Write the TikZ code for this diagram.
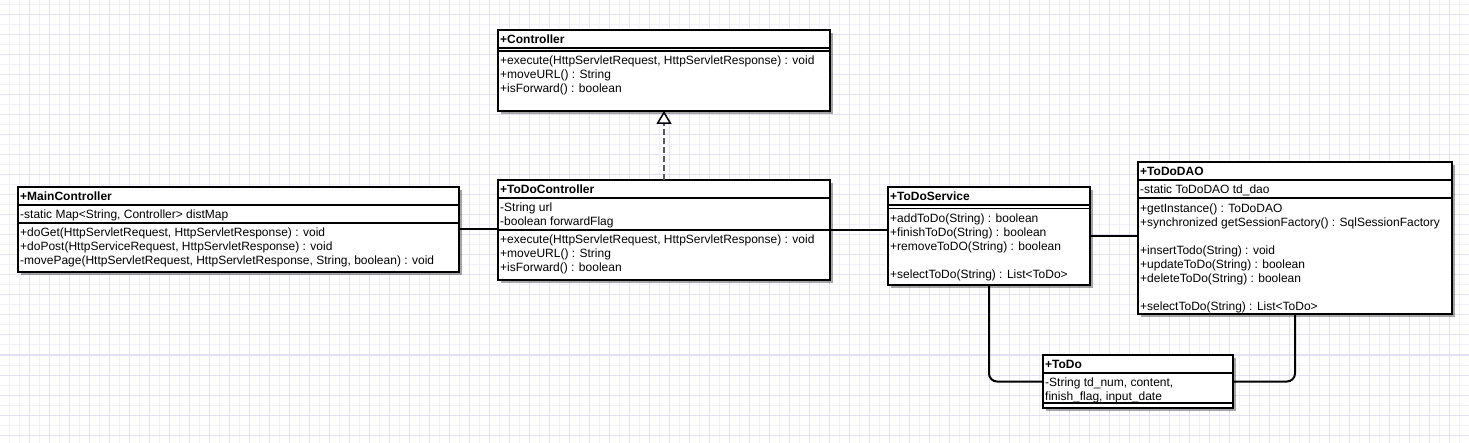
\documentclass[tikz,border=0pt]{standalone}
\usepackage{fontspec}
\setmainfont{Liberation Sans}
\usepackage{tikz}
\usetikzlibrary{positioning,arrows.meta,shadows}
\definecolor{gridminor}{RGB}{242,240,251}
\definecolor{gridmajor}{RGB}{228,224,247}

\begin{document}
\begin{tikzpicture}[x=1pt, y=-1pt,
    umlclass/.style = {draw, line width=2pt, fill=white, anchor=north west, inner sep=0pt, outer sep=0pt,
                       drop shadow={shadow xshift=3pt, shadow yshift=-3pt, fill=black, opacity=0.35}},
    classname/.style = {anchor=north west, inner sep=0pt, font=\fontsize{12}{14}\selectfont\bfseries},
    members/.style = {anchor=north west, inner sep=0pt, align=left, font=\fontsize{12}{14}\selectfont},
    compsep/.style = {line width=1.5pt},
    assoc/.style = {line width=2pt, rounded corners=8pt},
    realize/.style = {line width=2pt, draw=black!65, dash pattern=on 6pt off 3pt,
                      -{Triangle[length=13pt, width=15pt, color=black, fill=white, line width=1.5pt]}}]
    \fill[white] (0,0) rectangle (1469,443);
    \useasboundingbox (0,0) rectangle (1469,443);
    \foreach \x in {9,19,...,1469} \draw[gridminor, line width=1pt] (\x,0) -- (\x,443);
    \foreach \y in {5,15,...,443} \draw[gridminor, line width=1pt] (0,\y) -- (1469,\y);
    \foreach \x in {29,49,...,1469} \draw[gridmajor, line width=1pt] (\x,0) -- (\x,443);
    \foreach \y in {15,35,...,443} \draw[gridmajor, line width=1pt] (0,\y) -- (1469,\y);

    \node[umlclass, minimum width=332pt, minimum height=81pt] (controller) at (498,30) {};
    \node[classname] (controller-name) at ([xshift=2pt, yshift=-3.5pt]controller.north west) {\strut+Controller};
    \draw[compsep] ([yshift=-18pt]controller.north west) -- ([yshift=-18pt]controller.north east);
    \draw[compsep] ([yshift=-21pt]controller.north west) -- ([yshift=-21pt]controller.north east);
    \node[members] (controller-ops) at ([xshift=2pt, yshift=-24.5pt]controller.north west)
        {\strut+execute(HttpServletRequest, HttpServletResponse) : void\\
         +moveURL() : String\\
         +isForward() : boolean};

    \node[umlclass, minimum width=441pt, minimum height=85pt] (mainctrl) at (18,187) {};
    \node[classname] (mainctrl-name) at ([xshift=2pt, yshift=-3.5pt]mainctrl.north west) {\strut+MainController};
    \draw[compsep] ([yshift=-18pt]mainctrl.north west) -- ([yshift=-18pt]mainctrl.north east);
    \node[members] (mainctrl-attrs) at ([xshift=2pt, yshift=-21.5pt]mainctrl.north west)
        {\strut-static Map<String, Controller> distMap};
    \draw[compsep] ([yshift=-36pt]mainctrl.north west) -- ([yshift=-36pt]mainctrl.north east);
    \node[members] (mainctrl-ops) at ([xshift=2pt, yshift=-39.5pt]mainctrl.north west)
        {\strut+doGet(HttpServletRequest, HttpServletResponse) : void\\
         +doPost(HttpServiceRequest, HttpServletResponse) : void\\
         -movePage(HttpServletRequest, HttpServletResponse, String, boolean) : void};

    \node[umlclass, minimum width=332pt, minimum height=100pt] (todoctrl) at (498,180) {};
    \node[classname] (todoctrl-name) at ([xshift=2pt, yshift=-3.5pt]todoctrl.north west) {\strut+ToDoController};
    \draw[compsep] ([yshift=-18pt]todoctrl.north west) -- ([yshift=-18pt]todoctrl.north east);
    \node[members] (todoctrl-attrs) at ([xshift=2pt, yshift=-21.5pt]todoctrl.north west)
        {\strut-String url\\
         -boolean forwardFlag};
    \draw[compsep] ([yshift=-50pt]todoctrl.north west) -- ([yshift=-50pt]todoctrl.north east);
    \node[members] (todoctrl-ops) at ([xshift=2pt, yshift=-53.5pt]todoctrl.north west)
        {\strut+execute(HttpServletRequest, HttpServletResponse) : void\\
         +moveURL() : String\\
         +isForward() : boolean};

    \node[umlclass, minimum width=202pt, minimum height=98pt] (service) at (888,187) {};
    \node[classname] (service-name) at ([xshift=2pt, yshift=-3.5pt]service.north west) {\strut+ToDoService};
    \draw[compsep] ([yshift=-18pt]service.north west) -- ([yshift=-18pt]service.north east);
    \draw[compsep] ([yshift=-21.5pt]service.north west) -- ([yshift=-21.5pt]service.north east);
    \node[members] (service-ops) at ([xshift=2pt, yshift=-25.5pt]service.north west)
        {\strut+addToDo(String) : boolean\\
         +finishToDo(String) : boolean\\
         +removeToDO(String) : boolean\\[14pt]
         +selectToDo(String) : List<ToDo>};

    \node[umlclass, minimum width=314pt, minimum height=152pt] (dao) at (1138,162) {};
    \node[classname] (dao-name) at ([xshift=2pt, yshift=-3.5pt]dao.north west) {\strut+ToDoDAO};
    \draw[compsep] ([yshift=-18pt]dao.north west) -- ([yshift=-18pt]dao.north east);
    \node[members] (dao-attrs) at ([xshift=2pt, yshift=-21.5pt]dao.north west)
        {\strut-static ToDoDAO td\_dao};
    \draw[compsep] ([yshift=-36pt]dao.north west) -- ([yshift=-36pt]dao.north east);
    \node[members] (dao-ops) at ([xshift=2pt, yshift=-40.5pt]dao.north west)
        {\strut+getInstance() : ToDoDAO\\
         +synchronized getSessionFactory() : SqlSessionFactory\\[14pt]
         +insertTodo(String) : void\\
         +updateToDo(String) : boolean\\
         +deleteToDo(String) : boolean\\[14pt]
         +selectToDo(String) : List<ToDo>};

    \node[umlclass, minimum width=190pt, minimum height=53pt] (todo) at (1043,355) {};
    \node[classname] (todo-name) at ([xshift=2pt, yshift=-3.5pt]todo.north west) {\strut+ToDo};
    \draw[compsep] ([yshift=-18pt]todo.north west) -- ([yshift=-18pt]todo.north east);
    \node[members] (todo-attrs) at ([xshift=2pt, yshift=-21.5pt]todo.north west)
        {\strut-String td\_num, content,\\
         finish\_flag, input\_date};
    \draw[compsep] ([yshift=-48pt]todo.north west) -- ([yshift=-48pt]todo.north east);

    \draw[realize] (todoctrl.north) -- (controller.south);
    \draw[assoc] (mainctrl.east) -- (mainctrl.east -| todoctrl.west);
    \draw[assoc] (todoctrl.east) -- (todoctrl.east -| service.west);
    \draw[assoc] (service.east) -- (service.east -| dao.west);
    \draw[assoc] (service.south) |- (todo.west);
    \draw[assoc] (dao.south) |- (todo.east);
\end{tikzpicture}
\end{document}
